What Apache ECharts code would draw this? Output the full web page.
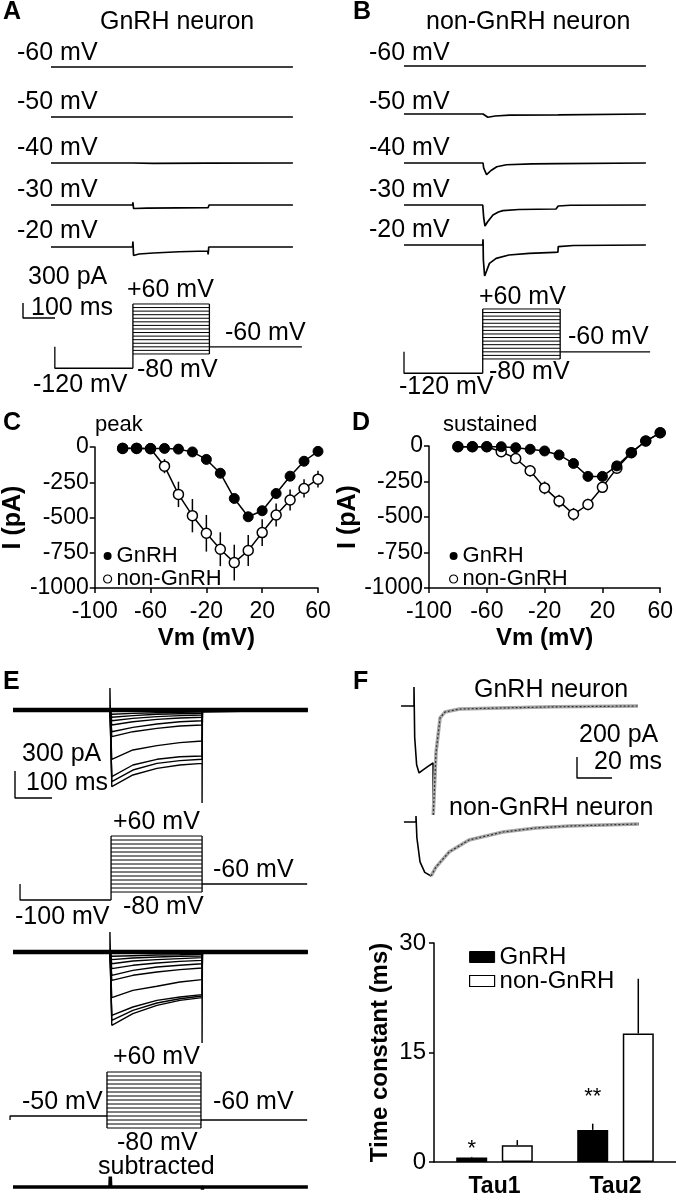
<!DOCTYPE html>
<html>
<head>
<meta charset="utf-8">
<script src="https://cdn.jsdelivr.net/npm/echarts@6.0.0/dist/echarts.min.js"></script>
<style>
html, body { margin: 0; background: #fff; }
#chart { width: 676px; height: 1200px; }
</style>
</head>
<body>
<div id="chart"></div>
<script>
// ---- I-V curves (C peak, D sustained), pA ----
const vm = [-80, -70, -60, -50, -40, -30, -20, -10, 0, 10, 20, 30, 40, 50, 60]
const peakGnRH = [-8, -8, -10, -10, -15, -35, -88, -186, -365, -495, -452, -330, -207, -101, -31]
const peakNon = [-10, -10, -12, -136, -336, -487, -612, -725, -820, -734, -607, -482, -376, -294, -228]
const peakNonErr = [0, 0, 0, 50, 90, 118, 130, 120, 127, 110, 95, 82, 75, 65, 60]
const sustGnRH = [-5, -5, -5, -5, -12, -23, -35, -63, -123, -214, -214, -140, -47, 35, 93]
const sustNon = [-5, -5, -5, -40, -88, -174, -295, -388, -481, -412, -291, -156, -47, 35, 93]
const sustNonErr = [0, 0, 0, 10, 15, 40, 45, 45, 45, 40, 30, 15, 10, 5, 5]

// ---- time constants (F bar chart), ms ----
const tauCats = ['Tau1', 'Tau2']
const tauGnRH = [0.6, 4.4]
const tauGnRHErr = [0.1, 0.85]
const tauNon = [2.3, 17.6]
const tauNonErr = [0.7, 7.5]
const tauStars = ['*', '**']

// ---- voltage protocols, mV / ms ----
const stepLevels = [-80, -70, -60, -50, -40, -30, -20, -10, 0, 10, 20, 30, 40, 50, 60]
const aProtoT = [12, 256, 495, 784]
const bProtoT = [0, 246, 488, 769]
const eTopProtoT = [19, 265, 511, 795]
const eMidProtoT = [-8, 254, 508, 795]

// ---- A: GnRH neuron traces [ms, pA] ----
const aTr60 = [[0, 0], [756, 0]]
const aTr50 = [[0, 0], [756, 0]]
const aTr40 = [[0, 0], [255, 0], [256, 25], [258, -8], [320, -6], [491, -4], [492, 0], [756, 0]]
const aTr30 = [[0, 0], [255, 0], [256, 55], [258, -70], [300, -62], [400, -58], [491, -55], [492, -80], [494, 0], [756, 0]]
const aTr20 = [[0, 0], [255, 0], [256, 110], [258, -170], [275, -140], [320, -120], [400, -95], [490, -80], [491, -150], [493, 0], [756, 0]]

// ---- B: non-GnRH neuron traces [ms, pA] ----
const bTr60 = [[0, 0], [756, 0]]
const bTr50 = [[0, 0], [247, 0], [252, -35], [262, -65], [285, -40], [330, -22], [481, -18], [482, 0], [756, 0]]
const bTr40 = [[0, 0], [247, 0], [249, -100], [258, -233], [272, -150], [290, -75], [320, -35], [400, -18], [481, -14], [482, 0], [756, 0]]
const bTr30 = [[0, 0], [246, 0], [247, 30], [249, -250], [253, -420], [262, -330], [278, -200], [295, -140], [309, -113], [359, -90], [475, -80], [481, -78], [482, -20], [520, -5], [756, 0]]
const bTr20 = [[0, 0], [246, 0], [247, 113], [248, -300], [252, -620], [258, -520], [267, -367], [288, -267], [328, -200], [391, -167], [469, -147], [481, -145], [482, -33], [530, -10], [756, 0]]

// ---- E: current families, sampled at eTimes (ms), pA ----
const eOn = 262
const eEnd = 797
const eTimes = [267, 324, 389, 451, 511]
const eTopCurves = [
  [-852, -722, -648, -611, -593],
  [-796, -667, -593, -563, -548],
  [-741, -611, -548, -519, -511],
  [-548, -444, -396, -363, -344],
  [-296, -241, -204, -178, -167],
  [-241, -193, -156, -130, -119],
  [-167, -130, -104, -89, -81],
  [-119, -93, -74, -63, -56],
  [-81, -63, -48, -41, -37],
  [-48, -37, -30, -26, -22]
]
const eMidCurves = [
  [-815, -685, -593, -537, -507],
  [-759, -648, -567, -519, -489],
  [-704, -611, -537, -500, -474],
  [-507, -426, -381, -333, -307],
  [-315, -259, -222, -196, -178],
  [-259, -204, -167, -148, -130],
  [-185, -148, -122, -104, -93],
  [-130, -100, -85, -74, -63],
  [-85, -67, -56, -48, -44],
  [-48, -41, -33, -30, -26]
]
const eTopCap = [244, -1033]
const eMidCap = [222, -1011]
const eSub = [[0, 0], [262, 0], [263, 160], [264, 0], [511, 0], [512, -40], [513, 0], [797, 0]]

// ---- F: traces and exponential fits [ms, pA] ----
const fGnRH = [[-7.4, 0], [0, 0], [0, 181], [0.4, -300], [1.5, -560], [2.9, -638], [5, -610], [8, -575], [10.9, -543], [11, -1038]]
const fGnRHFit = [[11, -1038], [12.6, -440], [14.9, -114], [17.7, -57], [26, -29], [49, -19], [80, -8], [128, 0]]
const fNon = [[-6.9, 0], [0, 0], [0, 57], [0.5, -150], [2.3, -380], [5, -480], [8.6, -514]]
const fNonFit = [[8.6, -514], [11.4, -429], [18.9, -286], [30.3, -171], [49.7, -95], [68.6, -57], [87.4, -38], [106.9, -29], [127.4, -19]]

const scaleA = [[0, 300], [0, 0], [100, 0]]
const scaleE = [[0, 300], [0, 0], [100, 0]]
const scaleF = [[0, 200], [0, 0], [20, 0]]

const FONT = 'Liberation Sans'
const grid = []
const xAxis = []
const yAxis = []
const series = []

// hidden axes: (ox, oy) is the pixel of the data origin, sx / sy are px per unit
function traceGrid (ox, oy, sx, sy, xr, yr) {
  const i = grid.length
  grid.push({ left: ox + xr[0] * sx, top: oy - yr[1] * sy, width: (xr[1] - xr[0]) * sx, height: (yr[1] - yr[0]) * sy })
  xAxis.push({ type: 'value', gridIndex: i, min: xr[0], max: xr[1], show: false })
  yAxis.push({ type: 'value', gridIndex: i, min: yr[0], max: yr[1], show: false })
  return i
}

function trace (i, data, width, color, type) {
  series.push({
    type: 'line', xAxisIndex: i, yAxisIndex: i, data: data, symbol: 'none', clip: false, silent: true,
    lineStyle: { color: color || '#000', width: width || 1.4, type: type || 'solid' }
  })
}

function protocol (i, pre, t) {
  trace(i, [[t[0], -60], [t[0], pre], [t[1], pre]], 1.3)
  trace(i, [[t[1], Math.min(pre, -80)], [t[1], 60]], 1.3)
  trace(i, [[t[2], 60], [t[2], -80]], 1.3)
  trace(i, [[t[2], -60], [t[3], -60]], 1.3)
  stepLevels.forEach(v => trace(i, [[t[1], v], [t[2], v]], 1))
}

function family (i, curves, cap) {
  curves.forEach((c, k) => {
    const pts = [[0, 0], [eOn, 0]]
    if (k === 0) pts.push([eOn, cap[0]])
    eTimes.forEach((t, j) => pts.push([t, c[j]]))
    if (k === 0) pts.push([eTimes[eTimes.length - 1], cap[1]])
    pts.push([eTimes[eTimes.length - 1] + 1, 0], [eEnd, 0])
    trace(i, pts, 1.4)
  })
  trace(i, [[0, 0], [eEnd, 0]], 4.5)
}

// ---- A ----
const aX = [0, 800]
const aY = [-300, 300]
;[[aTr60, 67], [aTr50, 117], [aTr40, 163], [aTr30, 205], [aTr20, 247]].forEach(([d, y]) => {
  trace(traceGrid(51, y, 0.32, 0.05, aX, aY), d, 1.7)
})
protocol(traceGrid(51, 325.4, 0.32, 0.357, [0, 800], [-130, 70]), -120, aProtoT)
trace(traceGrid(23, 318, 0.32, 0.05, [0, 100], [0, 300]), scaleA, 1.4)

// ---- B ----
;[[bTr60, 66], [bTr50, 114], [bTr40, 163], [bTr30, 205], [bTr20, 245]].forEach(([d, y]) => {
  trace(traceGrid(404, y, 0.32, 0.05, aX, [-700, 300]), d, 1.7)
})
protocol(traceGrid(404, 330.4, 0.32, 0.357, [0, 800], [-130, 70]), -120, bProtoT)

// ---- E ----
family(traceGrid(13, 710, 0.37, 0.09, [0, 800], [-1100, 300]), eTopCurves, eTopCap)
trace(traceGrid(15, 798, 0.37, 0.09, [0, 100], [0, 300]), scaleE, 1.4)
protocol(traceGrid(13, 860, 0.37, 0.4, [-20, 800], [-110, 70]), -100, eTopProtoT)
family(traceGrid(13, 952, 0.37, 0.09, [0, 800], [-1100, 300]), eMidCurves, eMidCap)
protocol(traceGrid(13, 1096, 0.37, 0.4, [-20, 800], [-110, 70]), -50, eMidProtoT)
trace(traceGrid(13, 1192, 0.37, 0.09, [0, 800], [-200, 200]), eSub, 3.5)

// ---- F traces ----
const fg = traceGrid(414, 706, 1.75, 0.105, [-10, 130], [-1100, 250])
trace(fg, fGnRH, 1.6)
trace(fg, fGnRHFit, 1.6)
trace(fg, fGnRHFit, 3.5, '#a8a8a8')
trace(fg, fGnRHFit, 1.2, '#333', [2, 2])
const fn = traceGrid(416, 822, 1.75, 0.105, [-10, 130], [-600, 100])
trace(fn, fNon, 1.6)
trace(fn, fNonFit, 1.6)
trace(fn, fNonFit, 3.5, '#a8a8a8')
trace(fn, fNonFit, 1.2, '#333', [2, 2])
trace(traceGrid(577, 778, 1.75, 0.105, [0, 20], [0, 200]), scaleF, 1.4)

// ---- C / D: I-V plots ----
const axLine = { color: '#000', width: 1.5 }
const plain = v => String(v)
function ivPanel (box, yGap, gnrh, non, nonErr) {
  const i = grid.length
  grid.push(box)
  xAxis.push({
    type: 'value', gridIndex: i, min: -100, max: 60, interval: 40,
    name: 'Vm (mV)', nameLocation: 'middle', nameGap: 38,
    nameTextStyle: { fontFamily: FONT, fontSize: 24, fontWeight: 'bold', color: '#000' },
    axisLine: { onZero: false, lineStyle: axLine },
    axisTick: { show: true, length: 5, lineStyle: axLine },
    axisLabel: { fontFamily: FONT, fontSize: 23, color: '#000', margin: 12, formatter: plain },
    splitLine: { show: false }
  })
  yAxis.push({
    type: 'value', gridIndex: i, min: -1000, max: 0, interval: 250,
    name: 'I (pA)', nameLocation: 'middle', nameGap: yGap,
    nameTextStyle: { fontFamily: FONT, fontSize: 25, fontWeight: 'bold', color: '#000' },
    axisLine: { show: true, onZero: false, lineStyle: axLine },
    axisTick: { show: true, length: 5, lineStyle: axLine },
    axisLabel: { fontFamily: FONT, fontSize: 23, color: '#000', margin: 6, formatter: plain },
    splitLine: { show: false }
  })
  series.push({
    type: 'custom', xAxisIndex: i, yAxisIndex: i, silent: true, clip: false, z: 2,
    data: vm.map((v, k) => [v, non[k], nonErr[k]]),
    renderItem (params, api) {
      const lo = api.coord([api.value(0), api.value(1) - api.value(2)])
      const hi = api.coord([api.value(0), api.value(1) + api.value(2)])
      return { type: 'line', shape: { x1: lo[0], y1: lo[1], x2: hi[0], y2: hi[1] }, style: { stroke: '#000', lineWidth: 1.5 } }
    }
  })
  series.push({
    name: 'non-GnRH', type: 'line', xAxisIndex: i, yAxisIndex: i, clip: false, silent: true, z: 3,
    data: vm.map((v, k) => [v, non[k]]), symbol: 'circle', symbolSize: 10,
    itemStyle: { color: '#fff', borderColor: '#000', borderWidth: 1.5 },
    lineStyle: { color: '#000', width: 1.5 }
  })
  series.push({
    name: 'GnRH', type: 'line', xAxisIndex: i, yAxisIndex: i, clip: false, silent: true, z: 4,
    data: vm.map((v, k) => [v, gnrh[k]]), symbol: 'circle', symbolSize: 10,
    itemStyle: { color: '#000', borderColor: '#000', borderWidth: 1 },
    lineStyle: { color: '#000', width: 1.5 }
  })
}
ivPanel({ left: 87, top: 447, width: 231, height: 141 }, 64, peakGnRH, peakNon, peakNonErr)
ivPanel({ left: 429, top: 446, width: 233, height: 142 }, 66, sustGnRH, sustNon, sustNonErr)

// ---- F: bar chart ----
const barW = 31
const barGapRatio = 0.47
const bi = grid.length
grid.push({ left: 434, top: 943, width: 242, height: 219 })
xAxis.push({
  type: 'category', gridIndex: bi, data: tauCats,
  axisLine: { lineStyle: axLine }, axisTick: { show: false },
  axisLabel: { fontFamily: FONT, fontSize: 23, fontWeight: 'bold', color: '#000', margin: 13 }
})
yAxis.push({
  type: 'value', gridIndex: bi, min: 0, max: 30, interval: 15,
  name: 'Time constant (ms)', nameLocation: 'middle', nameGap: 42,
  nameTextStyle: { fontFamily: FONT, fontSize: 24, fontWeight: 'bold', color: '#000' },
  axisLine: { show: true, lineStyle: axLine },
  axisTick: { show: true, length: 5, lineStyle: axLine },
  axisLabel: { fontFamily: FONT, fontSize: 24, color: '#000', margin: 8 },
  splitLine: { show: false }
})
const starDist = [-2, 22]
series.push({
  name: 'GnRH', type: 'bar', xAxisIndex: bi, yAxisIndex: bi, barWidth: barW, barGap: (barGapRatio * 100) + '%', silent: true,
  itemStyle: { color: '#000', borderColor: '#000', borderWidth: 1.5 },
  data: tauGnRH.map((v, k) => ({
    value: v,
    label: { show: true, position: 'top', formatter: tauStars[k], distance: starDist[k], fontFamily: FONT, fontSize: 22, color: '#000' }
  }))
})
series.push({
  name: 'non-GnRH', type: 'bar', xAxisIndex: bi, yAxisIndex: bi, barWidth: barW, silent: true,
  itemStyle: { color: '#fff', borderColor: '#000', borderWidth: 1.5 },
  data: tauNon
})
function barErrors (vals, errs, side) {
  series.push({
    type: 'custom', xAxisIndex: bi, yAxisIndex: bi, silent: true, z: 1,
    data: vals.map((v, k) => [k, v, errs[k]]),
    renderItem (params, api) {
      const off = side * barW * (1 + barGapRatio) / 2
      const lo = api.coord([api.value(0), api.value(1)])
      const hi = api.coord([api.value(0), api.value(1) + api.value(2)])
      return { type: 'line', shape: { x1: lo[0] + off, y1: lo[1], x2: hi[0] + off, y2: hi[1] }, style: { stroke: '#000', lineWidth: 1.5 } }
    }
  })
}
barErrors(tauGnRH, tauGnRHErr, -1)
barErrors(tauNon, tauNonErr, 1)

// ---- legends ----
const dotLegend = left => ({
  left: left, top: 540, orient: 'vertical', itemWidth: 8, itemHeight: 8, itemGap: 1, selectedMode: false,
  textStyle: { fontFamily: FONT, fontSize: 22, lineHeight: 22, color: '#000' },
  data: [
    { name: 'GnRH', icon: 'circle', itemStyle: { color: '#000', borderWidth: 0 } },
    { name: 'non-GnRH', icon: 'circle', itemStyle: { color: '#fff', borderColor: '#000', borderWidth: 1.2 } }
  ]
})
const legend = [
  dotLegend(98),
  dotLegend(444),
  {
    left: 464, top: 940, orient: 'vertical', itemWidth: 25, itemHeight: 11, itemGap: 0, selectedMode: false,
    textStyle: { fontFamily: FONT, fontSize: 24, lineHeight: 20, color: '#000' },
    data: [
      { name: 'GnRH', icon: 'rect', itemStyle: { color: '#000', borderColor: '#000', borderWidth: 1 } },
      { name: 'non-GnRH', icon: 'rect', itemStyle: { color: '#fff', borderColor: '#000', borderWidth: 1.2 } }
    ]
  }
]

// ---- text annotations ----
function lab (text, x, y, size, bold) {
  return {
    type: 'text', x: x, y: y, silent: true,
    style: {
      text: text, fill: '#000', fontFamily: FONT, fontSize: size || 25, fontWeight: bold ? 'bold' : 'normal',
      align: 'left', verticalAlign: 'middle', textAlign: 'left', textVerticalAlign: 'middle'
    }
  }
}
const texts = [
  lab('A', 3, 12, 25, true), lab('GnRH neuron', 100, 22),
  lab('-60 mV', 17, 53), lab('-50 mV', 17, 102), lab('-40 mV', 17, 148), lab('-30 mV', 17, 190), lab('-20 mV', 17, 231),
  lab('300 pA', 28, 277), lab('100 ms', 31, 308),
  lab('+60 mV', 127, 290), lab('-60 mV', 225, 333), lab('-80 mV', 137, 370), lab('-120 mV', 33, 385),
  lab('B', 353, 12, 25, true), lab('non-GnRH neuron', 426, 22),
  lab('-60 mV', 369, 53), lab('-50 mV', 369, 102), lab('-40 mV', 369, 148), lab('-30 mV', 369, 190), lab('-20 mV', 369, 230),
  lab('+60 mV', 479, 297), lab('-60 mV', 568, 337), lab('-80 mV', 489, 372), lab('-120 mV', 399, 387),
  lab('C', 3, 423, 25, true), lab('peak', 95, 425, 22),
  lab('D', 352, 423, 25, true), lab('sustained', 443, 425, 22),
  lab('E', 3, 682, 25, true),
  lab('300 pA', 22, 754), lab('100 ms', 26, 783),
  lab('+60 mV', 113, 822), lab('-60 mV', 213, 870), lab('-80 mV', 123, 907), lab('-100 mV', 15, 917),
  lab('+60 mV', 113, 1057), lab('-50 mV', 22, 1102), lab('-60 mV', 213, 1102), lab('-80 mV', 117, 1143), lab('subtracted', 98, 1167),
  lab('F', 353, 682, 25, true),
  lab('GnRH neuron', 474, 690), lab('200 pA', 579, 735), lab('20 ms', 594, 762), lab('non-GnRH neuron', 449, 808)
]

const chart = echarts.init(document.getElementById('chart'))
chart.setOption({
  animation: false,
  backgroundColor: '#fff',
  textStyle: { fontFamily: FONT },
  grid: grid,
  xAxis: xAxis,
  yAxis: yAxis,
  legend: legend,
  series: series,
  graphic: { elements: texts }
})
</script>
</body>
</html>
